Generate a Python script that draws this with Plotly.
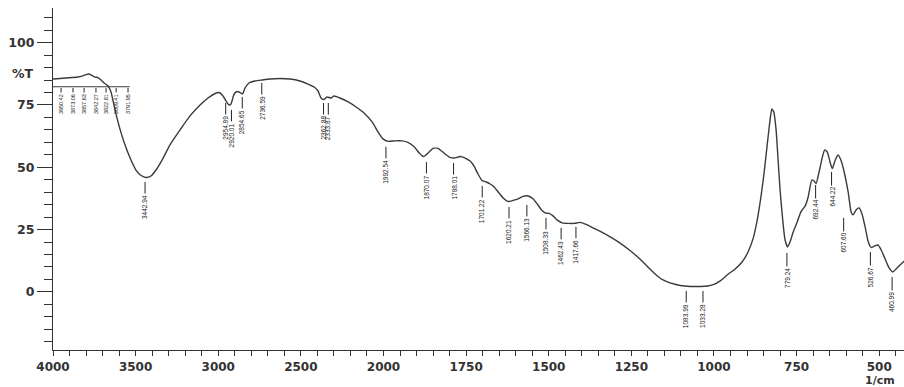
import plotly.graph_objects as go

# ---------------- data ----------------
wavenumber = [4000, 3958, 3921, 3885, 3849, 3824, 3800, 3782, 3764, 3746, 3728, 3709, 3691, 3667,
              3649, 3631, 3613, 3588, 3558, 3528, 3498, 3467, 3437, 3407, 3377, 3340, 3292, 3231,
              3171, 3110, 3062, 3019, 2995, 2971, 2953, 2935, 2923, 2904, 2886, 2868, 2853, 2838,
              2814, 2777, 2735, 2686, 2626, 2565, 2505, 2457, 2420, 2396, 2378, 2360, 2342, 2317,
              2299, 2263, 2214, 2166, 2118, 2069, 2033, 2003,
              1986, 1965, 1944, 1926, 1907, 1892, 1879, 1865, 1850, 1835, 1817, 1801, 1786, 1768,
              1753, 1738, 1726, 1714, 1702, 1689, 1677, 1665, 1653, 1638, 1623, 1608, 1593, 1578,
              1562, 1547, 1535, 1523, 1511, 1499, 1487, 1475, 1459, 1441, 1423, 1405, 1387, 1366,
              1344, 1314, 1284, 1254, 1224, 1200, 1178, 1157, 1133, 1102, 1072, 1042, 1018, 1000,
              981, 960, 936, 915, 897, 881, 869, 857, 848, 839, 831, 825, 819, 812, 806, 800, 792,
              785, 777, 770, 760, 748, 737, 724, 715, 704, 697, 691, 682, 672, 665, 657, 648, 642,
              633, 624, 615, 606, 594, 585, 579, 570, 561, 552, 542, 533, 524, 515, 503, 494, 482,
              470, 459, 449, 437, 424]
transmittance = [85.4, 85.6, 85.8, 86.0, 86.2, 86.6, 87.2, 87.4, 86.8, 86.2, 86.0, 85.0, 83.8, 82.6,
                 80.2, 75.0, 69.8, 63.8, 57.8, 52.9, 48.9, 46.7, 45.9, 46.5, 48.9, 52.9, 59.0, 65.0,
                 70.6, 75.0, 77.8, 79.6, 80.0, 78.6, 76.6, 75.0, 75.4, 79.4, 80.4, 80.0, 79.4, 81.8,
                 83.8, 84.6, 85.0, 85.4, 85.6, 85.4, 84.6, 83.4, 82.2, 80.6, 77.8, 77.2, 78.2, 77.8,
                 78.6, 77.8, 76.2, 74.2, 71.8, 68.2, 64.2, 61.4,
                 60.4, 60.6, 60.6, 60.0, 58.2, 55.7, 54.3, 55.7, 57.6, 57.6, 55.7, 54.1, 53.7, 54.3,
                 53.7, 52.5, 50.5, 47.3, 44.7, 44.1, 43.3, 42.1, 40.1, 37.7, 36.3, 36.7, 37.3, 38.3,
                 38.5, 37.3, 35.3, 33.1, 31.7, 31.5, 30.5, 28.9, 27.7, 27.5, 27.5, 27.9, 27.1, 25.7,
                 24.3, 22.1, 19.6, 16.6, 13.2, 10.0, 7.2, 5.0, 3.6, 2.6, 2.2, 2.2, 2.4, 3.0,
                 4.4, 6.8, 9.2, 12.0, 16.0, 21.7, 28.9, 38.9, 48.1, 59.0, 68.2, 73.4, 72.2, 65.0,
                 52.9, 40.9, 28.9, 20.9, 18.0, 20.0, 24.1, 28.1, 32.1, 34.5, 38.1, 44.9, 44.5, 43.5,
                 48.1, 54.1, 57.0, 56.1, 51.7, 49.5, 52.9, 54.9, 52.5, 48.1, 40.1, 32.1, 30.9, 32.9,
                 33.7, 31.3, 25.7, 20.0, 17.8, 18.4, 18.8, 16.8, 13.2, 9.6, 8.0, 9.2, 10.8, 12.4]

# peak labels: wavenumber, label text, %T where the label's tick line starts
peak_wn = [3442.94, 2954.89, 2920.01, 2854.65, 2736.59, 2362.88, 2333.87, 1992.54, 1870.07,
           1788.01, 1701.22, 1620.21, 1566.13, 1508.33, 1462.43, 1417.66, 1083.99, 1033.28,
           779.24, 692.44, 644.22, 607.60, 526.67, 460.99]
peak_text = ["3442.94", "2954.89", "2920.01", "2854.65", "2736.59", "2362.88", "2333.87",
             "1992.54", "1870.07", "1788.01", "1701.22", "1620.21", "1566.13", "1508.33",
             "1462.43", "1417.66", "1083.99", "1033.28", "779.24", "692.44", "644.22",
             "607.60", "526.67", "460.99"]
peak_T = [44.1, 75.8, 73.0, 78.2, 83.8, 75.8, 75.8, 58.2, 52.1, 51.7, 42.5, 34.1, 34.9, 29.7,
          25.7, 26.1, 0.4, 0.4, 15.6, 42.9, 48.1, 29.7, 16.0, 6.0]

# crowded labels at the high-wavenumber end (spread out positions)
cluster_text = ["3950.42", "3873.06", "3857.63", "3842.27", "3822.81", "3809.41", "3791.95"]
cluster_pos_wn = [3951, 3879, 3812, 3740, 3679, 3618, 3546]
cluster_T = 81.8
leader_T = 82.3

x_tick_wn = [4000, 3500, 3000, 2500, 2000, 1750, 1500, 1250, 1000, 750, 500]
y_tick_vals = [0, 25, 50, 75, 100]


# Shimadzu-style split axis: 500 cm-1 per division above 2000, 250 cm-1 below
def to_axis(w):
    return (4000 - w) / 500 if w >= 2000 else 4 + (2000 - w) / 250


fig = go.Figure()
fig.add_trace(go.Scatter(
    x=[to_axis(w) for w in wavenumber], y=transmittance, mode="lines",
    line=dict(color="#3a3a3a", width=1.4, shape="spline", smoothing=0.5),
    hoverinfo="skip", showlegend=False))

# leader line for the crowded labels
lx = [to_axis(w) for w in cluster_pos_wn]
fig.add_trace(go.Scatter(
    x=[0, max(lx) + 0.02], y=[leader_T, leader_T], mode="lines",
    line=dict(color="#3a3a3a", width=1.2), hoverinfo="skip", showlegend=False))

label_font = dict(family="Liberation Sans, Arial, sans-serif", size=6.5, color="#222")
annotations = []
for w, t, T in zip(peak_wn, peak_text, peak_T):
    annotations.append(dict(
        x=to_axis(w), y=T, xref="x", yref="y", text=t, textangle=-90,
        showarrow=True, arrowhead=0, arrowwidth=1, arrowcolor="#222",
        ax=0, ay=25, font=label_font))
for x, t in zip(lx, cluster_text):
    annotations.append(dict(
        x=x, y=cluster_T, xref="x", yref="y", text=t, textangle=-90,
        showarrow=True, arrowhead=0, arrowwidth=1, arrowcolor="#222",
        ax=0, ay=16, font=dict(label_font, size=5.5)))

axis_font = dict(family="DejaVu Sans, Verdana, sans-serif", size=12.5, color="#333", weight="bold")
annotations.append(dict(x=0, y=87.8, xref="paper", yref="y", text="%T", showarrow=False,
                        xanchor="right", xshift=-17, font=axis_font))
annotations.append(dict(x=(880 - 53) / 851, y=-0.112, xref="paper", yref="paper", text="1/cm",
                        showarrow=False, xanchor="center", yanchor="bottom", borderpad=0,
                        font=dict(axis_font, size=11)))

fig.update_layout(
    width=904, height=387,
    margin=dict(l=53, r=0, t=8, b=37, autoexpand=False),
    paper_bgcolor="white", plot_bgcolor="white",
    showlegend=False,
    annotations=annotations,
    xaxis=dict(
        range=[0, 10.30], showgrid=False, zeroline=False, automargin=False,
        showline=True, linecolor="#333", linewidth=1.2,
        tickmode="array", tickvals=[to_axis(w) for w in x_tick_wn],
        ticktext=[str(w) for w in x_tick_wn],
        ticks="outside", ticklen=5, tickwidth=1.2, tickcolor="#333",
        tickfont=dict(axis_font, size=12),
        minor=dict(tick0=0, dtick=0.2, ticks="outside", ticklen=5, tickwidth=1, tickcolor="#333"),
    ),
    yaxis=dict(
        range=[-23.3, 113.9], showgrid=False, zeroline=False, automargin=False,
        showline=True, linecolor="#333", linewidth=1.2,
        tickmode="array", tickvals=y_tick_vals, ticktext=[str(v) for v in y_tick_vals],
        ticks="outside", ticklen=15, tickwidth=1.2, tickcolor="#333",
        tickfont=axis_font,
        minor=dict(tick0=0, dtick=5, ticks="outside", ticklen=8, tickwidth=1, tickcolor="#333"),
    ),
)

fig.write_html("out.html", config={"displayModeBar": False},
               post_script="document.body.style.margin='0';document.body.style.overflow='hidden';")
